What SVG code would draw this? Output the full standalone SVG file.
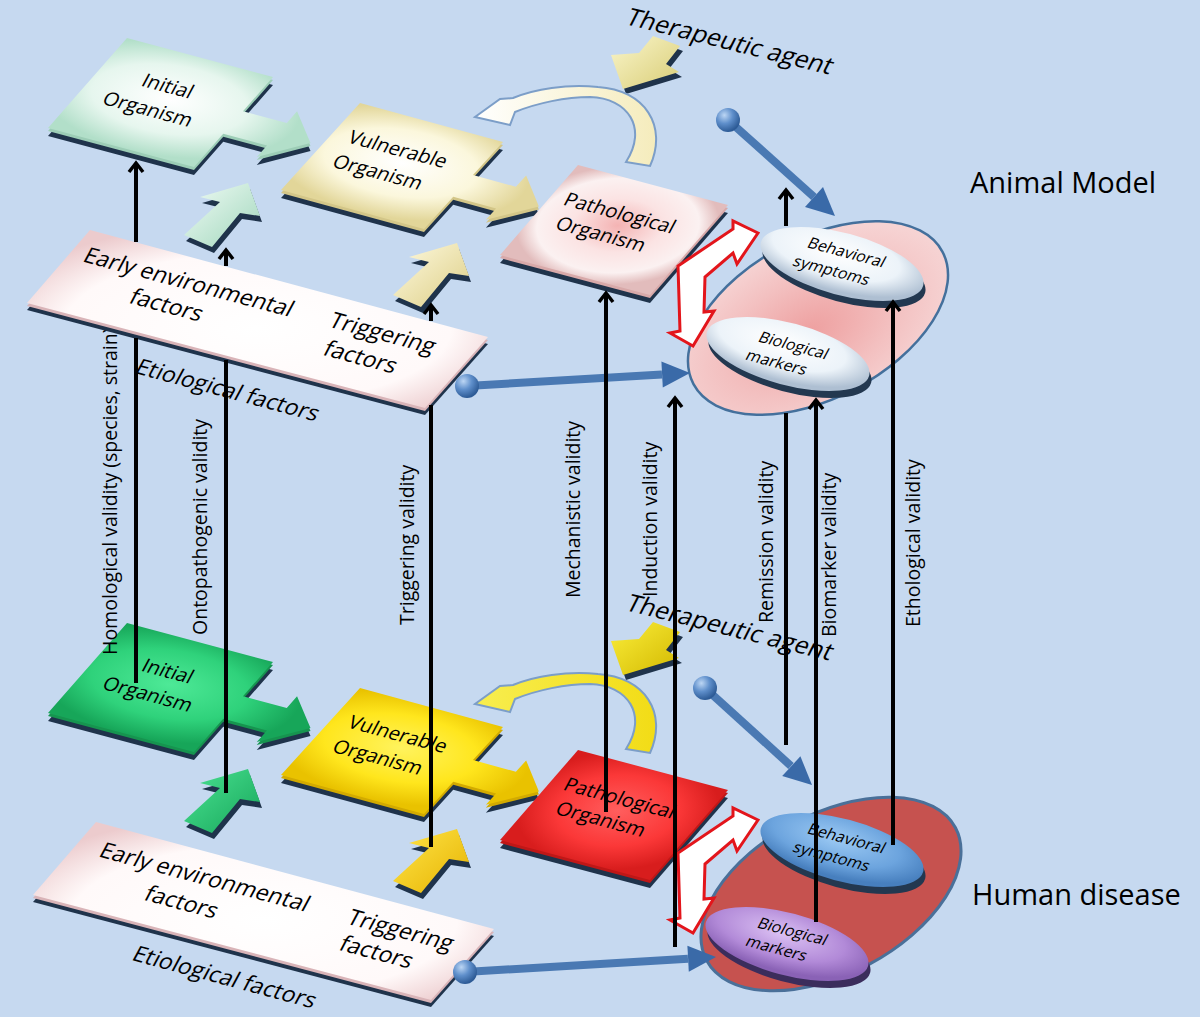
<svg xmlns="http://www.w3.org/2000/svg" width="1200" height="1017" viewBox="0 0 1200 1017">
<defs>
<style>
text{font-family:"Open Sans","Liberation Sans",Arial,sans-serif;fill:#000}
.nl{font-size:20px;text-anchor:middle}
.sl{font-size:23px;text-anchor:middle}
.ol{font-size:16px;text-anchor:middle}
.ta{font-size:25px;text-anchor:middle}
.vl{font-size:19.5px}
.big{font-size:29px}
.shadow{fill:#1f334b}
.vline{stroke:#000;stroke-width:4;fill:none}
.pinl{stroke:#4a79b3;stroke-width:8}
.pinh{fill:#3a6aa8}
.zz{fill:#fff;stroke:#e3151b;stroke-width:3;stroke-linejoin:miter}
.curve{stroke:#7c9ec8;stroke-width:2}
.rim{fill:#233850}
</style>
<path id="sqA" d="M0,0H1V.38H1.3V.25L1.53,.505L1.3,.76V.63H1V1H0Z"/>
<path id="sq" d="M0,0H1V1H0Z"/>
<path id="slab" d="M90,230L488,337L425,408L27,303Z"/>
<path id="sa" d="M48,0L60,33L40,30L12,64L-16,52L20,19L0,14Z"/>
<path id="tha" d="M42,-1L69,9L55,27L68,35L12,52L0,18L28,16Z"/>
<path id="ca" d="M650,166C668,126 645,90 598,87C566,84 535,89 513,98L500,99L475,117L510,125L515,112C537,103 566,97 590,97C628,98 648,128 626,162Z"/>
<path id="zz" d="M758,233L737,264L733,253L705,277L704,312L714,311L693,346L670,333L680,331L678,266L733,229L733,221Z"/>
<marker id="ah" viewBox="-12 -10 16 20" refX="0" refY="0" markerWidth="16" markerHeight="20" markerUnits="userSpaceOnUse" orient="auto">
<path d="M-9,-7L0,0L-9,7" fill="none" stroke="#000" stroke-width="3.5"/>
</marker>
<radialGradient id="gInitA" cx=".35" cy=".45" r=".55"><stop offset="0" stop-color="#ffffff"/><stop offset=".6" stop-color="#e6f6ee"/><stop offset="1" stop-color="#b2dfc9"/></radialGradient>
<radialGradient id="gVulnA" cx=".35" cy=".45" r=".55"><stop offset="0" stop-color="#ffffff"/><stop offset=".6" stop-color="#fbf7dc"/><stop offset="1" stop-color="#e2d699"/></radialGradient>
<radialGradient id="gPathA" cx=".5" cy=".45" r=".6"><stop offset="0" stop-color="#f4b3b3"/><stop offset=".45" stop-color="#fbe3e3"/><stop offset=".8" stop-color="#fbf1f1"/><stop offset="1" stop-color="#e2bcbc"/></radialGradient>
<radialGradient id="gInitH" cx=".35" cy=".45" r=".55"><stop offset="0" stop-color="#4ee997"/><stop offset=".6" stop-color="#2fd27b"/><stop offset="1" stop-color="#17a659"/></radialGradient>
<radialGradient id="gVulnH" cx=".35" cy=".45" r=".55"><stop offset="0" stop-color="#fff35e"/><stop offset=".6" stop-color="#ffe61d"/><stop offset="1" stop-color="#e9c200"/></radialGradient>
<radialGradient id="gPathH" cx=".5" cy=".45" r=".6"><stop offset="0" stop-color="#ff5e5e"/><stop offset=".6" stop-color="#fb3838"/><stop offset="1" stop-color="#d81d1d"/></radialGradient>
<radialGradient id="gSlab" cx=".5" cy=".55" r=".6"><stop offset="0" stop-color="#ffffff"/><stop offset=".7" stop-color="#fff9f9"/><stop offset="1" stop-color="#eccbcd"/></radialGradient>
<linearGradient id="gSGA" x1="0" y1="0" x2="1" y2="1"><stop offset="0" stop-color="#f2fcf6"/><stop offset="1" stop-color="#9fd6bb"/></linearGradient>
<linearGradient id="gSYA" x1="0" y1="0" x2="1" y2="1"><stop offset="0" stop-color="#fffbe2"/><stop offset="1" stop-color="#dccd84"/></linearGradient>
<linearGradient id="gSGH" x1="0" y1="0" x2="1" y2="1"><stop offset="0" stop-color="#4be393"/><stop offset="1" stop-color="#17a65a"/></linearGradient>
<linearGradient id="gSYH" x1="0" y1="0" x2="1" y2="1"><stop offset="0" stop-color="#ffe64a"/><stop offset="1" stop-color="#e6b200"/></linearGradient>
<linearGradient id="gThA" x1="0" y1="0" x2="1" y2="1"><stop offset="0" stop-color="#faf6cc"/><stop offset="1" stop-color="#d9cd76"/></linearGradient>
<linearGradient id="gThH" x1="0" y1="0" x2="1" y2="1"><stop offset="0" stop-color="#fbee3a"/><stop offset="1" stop-color="#d2b800"/></linearGradient>
<linearGradient id="gCA" x1="0" y1="0" x2="1" y2="0"><stop offset="0" stop-color="#ffffff"/><stop offset="1" stop-color="#f5ecbc"/></linearGradient>
<linearGradient id="gCH" x1="0" y1="0" x2="1" y2="0"><stop offset="0" stop-color="#f8ee50"/><stop offset="1" stop-color="#f2dc16"/></linearGradient>
<radialGradient id="gPink" cx=".45" cy=".55" r=".55"><stop offset="0" stop-color="#eea0a0"/><stop offset=".6" stop-color="#f3c0c0"/><stop offset="1" stop-color="#f6d3d3"/></radialGradient>
<radialGradient id="gOvA" cx=".45" cy=".35" r=".6"><stop offset="0" stop-color="#ffffff"/><stop offset=".65" stop-color="#ecf3f9"/><stop offset="1" stop-color="#aebfd2"/></radialGradient>
<radialGradient id="gBehH" cx=".45" cy=".35" r=".6"><stop offset="0" stop-color="#9ccaf4"/><stop offset=".65" stop-color="#6ca4de"/><stop offset="1" stop-color="#477fbe"/></radialGradient>
<radialGradient id="gBioH" cx=".45" cy=".35" r=".6"><stop offset="0" stop-color="#dcc2f4"/><stop offset=".65" stop-color="#b28ad8"/><stop offset="1" stop-color="#8a62b6"/></radialGradient>
<radialGradient id="gBall" cx=".35" cy=".3" r=".7"><stop offset="0" stop-color="#bcd6f4"/><stop offset=".5" stop-color="#5f8fcb"/><stop offset="1" stop-color="#2d5b96"/></radialGradient>
</defs>

<rect width="1200" height="1017" fill="#c6d9f0"/>

<!-- Human disease layer -->
<g id="human-initial-organism" transform="translate(0,585)">
<use href="#sqA" class="shadow" transform="translate(0,8) matrix(146 39 -79 90 127 38)"/>
<use href="#sqA" fill="#16944f" transform="translate(0,3) matrix(146 39 -79 90 127 38)"/>
<use href="#sqA" fill="url(#gInitH)" transform="matrix(146 39 -79 90 127 38)"/>
<text class="nl" transform="matrix(.966 .258 -.47 .88 168 86)" y="7">Initial</text>
<text class="nl" transform="matrix(.966 .258 -.47 .88 148 109)" y="7">Organism</text>
</g>
<g id="human-vulnerable-organism" transform="translate(0,585)">
<use href="#sqA" class="shadow" transform="translate(0,8) matrix(143 39 -79 87 360 103)"/>
<use href="#sqA" fill="#d2aa00" transform="translate(0,3) matrix(143 39 -79 87 360 103)"/>
<use href="#sqA" fill="url(#gVulnH)" transform="matrix(143 39 -79 87 360 103)"/>
<text class="nl" transform="matrix(.966 .258 -.47 .88 398 149)" y="7">Vulnerable</text>
<text class="nl" transform="matrix(.966 .258 -.47 .88 378 172)" y="7">Organism</text>
</g>
<g id="human-pathological-organism" transform="translate(0,585)">
<use href="#sq" class="shadow" transform="translate(0,8) matrix(150 40 -78 90 578 165)"/>
<use href="#sq" fill="#bf1717" transform="translate(0,3) matrix(150 40 -78 90 578 165)"/>
<use href="#sq" fill="url(#gPathH)" transform="matrix(150 40 -78 90 578 165)"/>
<text class="nl" transform="matrix(.966 .258 -.47 .88 620 213)" y="7">Pathological</text>
<text class="nl" transform="matrix(.966 .258 -.47 .88 601 234)" y="7">Organism</text>
</g>
<g id="human-etiological-factors">
<use href="#slab" class="shadow" transform="translate(6,599)"/>
<use href="#slab" fill="#d9b4b8" transform="translate(6,595)"/>
<use href="#slab" fill="url(#gSlab)" transform="translate(6,592)"/>
<text class="sl" transform="matrix(.966 .258 -.47 .88 205 877)" y="8">Early environmental</text>
<text class="sl" transform="matrix(.966 .258 -.47 .88 182 902)" y="8">factors</text>
<text class="sl" transform="matrix(.966 .258 -.47 .88 401 930)" y="8">Triggering</text>
<text class="sl" transform="matrix(.966 .258 -.47 .88 377 952)" y="8">factors</text>
<text class="sl" transform="matrix(.966 .258 -.47 .88 225 977)" y="8">Etiological factors</text>
</g>
<g id="human-therapeutic-agent">
<text class="ta" transform="matrix(.97 .24 -.45 .89 730 628)" y="8">Therapeutic agent</text>
</g>
<g id="human-outcomes">
<ellipse cx="831" cy="894" rx="141" ry="80" transform="rotate(-28 831 894)" fill="#c6524f" stroke="#4a7099" stroke-width="3"/>
<ellipse class="rim" cx="844" cy="857" rx="84" ry="31" transform="rotate(15 844 857)" fill="#24466f"/>
<ellipse cx="842" cy="850" rx="84" ry="31" transform="rotate(15 842 850)" fill="url(#gBehH)"/>
<text class="ol" transform="matrix(.966 .258 -.47 .88 847 838)" y="6">Behavioral</text>
<text class="ol" transform="matrix(.966 .258 -.47 .88 832 856)" y="6">symptoms</text>
<ellipse cx="789" cy="951" rx="84" ry="31" transform="rotate(15 789 951)" fill="#3b2d5c"/>
<ellipse cx="787" cy="944" rx="84" ry="31" transform="rotate(15 787 944)" fill="url(#gBioH)"/>
<text class="ol" transform="matrix(.966 .258 -.47 .88 793 931)" y="6">Biological</text>
<text class="ol" transform="matrix(.966 .258 -.47 .88 777 948)" y="6">markers</text>
</g>

<!-- validity labels -->
<g id="validity-labels" class="vl">
<text class="vl" transform="translate(117,655) rotate(-90)">Homological validity (species, strain)</text>
<text class="vl" transform="translate(207,635) rotate(-90)">Ontopathogenic validity</text>
<text class="vl" transform="translate(414,625) rotate(-90)">Triggering validity</text>
<text class="vl" transform="translate(580,598) rotate(-90)">Mechanistic validity</text>
<text class="vl" transform="translate(657,597) rotate(-90)">Induction validity</text>
<text class="vl" transform="translate(773,623) rotate(-90)">Remission validity</text>
<text class="vl" transform="translate(836,637) rotate(-90)">Biomarker validity</text>
<text class="vl" transform="translate(920,627) rotate(-90)">Ethological validity</text>
</g>

<!-- Animal model layer -->
<g id="animal-initial-organism">
<use href="#sqA" class="shadow" transform="translate(0,8) matrix(146 39 -79 90 127 38)"/>
<use href="#sqA" fill="#9ccdb6" transform="translate(0,3) matrix(146 39 -79 90 127 38)"/>
<use href="#sqA" fill="url(#gInitA)" transform="matrix(146 39 -79 90 127 38)"/>
<text class="nl" transform="matrix(.966 .258 -.47 .88 168 86)" y="7">Initial</text>
<text class="nl" transform="matrix(.966 .258 -.47 .88 148 109)" y="7">Organism</text>
</g>
<g id="animal-vulnerable-organism">
<use href="#sqA" class="shadow" transform="translate(0,8) matrix(143 39 -79 87 360 103)"/>
<use href="#sqA" fill="#d3c688" transform="translate(0,3) matrix(143 39 -79 87 360 103)"/>
<use href="#sqA" fill="url(#gVulnA)" transform="matrix(143 39 -79 87 360 103)"/>
<text class="nl" transform="matrix(.966 .258 -.47 .88 398 149)" y="7">Vulnerable</text>
<text class="nl" transform="matrix(.966 .258 -.47 .88 378 172)" y="7">Organism</text>
</g>
<g id="animal-pathological-organism">
<use href="#sq" class="shadow" transform="translate(0,8) matrix(150 40 -78 90 578 165)"/>
<use href="#sq" fill="#d8a9a9" transform="translate(0,3) matrix(150 40 -78 90 578 165)"/>
<use href="#sq" fill="url(#gPathA)" transform="matrix(150 40 -78 90 578 165)"/>
<text class="nl" transform="matrix(.966 .258 -.47 .88 620 213)" y="7">Pathological</text>
<text class="nl" transform="matrix(.966 .258 -.47 .88 601 234)" y="7">Organism</text>
</g>
<g id="animal-etiological-factors">
<use href="#slab" class="shadow" transform="translate(0,7)"/>
<use href="#slab" fill="#d9b4b8" transform="translate(0,3)"/>
<use href="#slab" fill="url(#gSlab)"/>
<text class="sl" transform="matrix(.966 .258 -.47 .88 189 282)" y="8">Early environmental</text>
<text class="sl" transform="matrix(.966 .258 -.47 .88 167 305)" y="8">factors</text>
<text class="sl" transform="matrix(.966 .258 -.47 .88 383 333)" y="8">Triggering</text>
<text class="sl" transform="matrix(.966 .258 -.47 .88 361 357)" y="8">factors</text>
<text class="sl" transform="matrix(.966 .258 -.47 .88 228 390)" y="8">Etiological factors</text>
</g>
<g id="animal-therapeutic-agent">
<text class="ta" transform="matrix(.97 .24 -.45 .89 730 42)" y="8">Therapeutic agent</text>
</g>
<g id="animal-outcomes">
<ellipse cx="818" cy="318" rx="141" ry="80" transform="rotate(-28 818 318)" fill="url(#gPink)" stroke="#44709c" stroke-width="2.5"/>
<ellipse class="rim" cx="844" cy="271" rx="84" ry="31" transform="rotate(15 844 271)"/>
<ellipse cx="842" cy="264" rx="84" ry="31" transform="rotate(15 842 264)" fill="url(#gOvA)"/>
<text class="ol" transform="matrix(.966 .258 -.47 .88 847 252)" y="6">Behavioral</text>
<text class="ol" transform="matrix(.966 .258 -.47 .88 832 270)" y="6">symptoms</text>
<ellipse class="rim" cx="790" cy="361" rx="84" ry="31" transform="rotate(15 790 361)"/>
<ellipse cx="788" cy="354" rx="84" ry="31" transform="rotate(15 788 354)" fill="url(#gOvA)"/>
<text class="ol" transform="matrix(.966 .258 -.47 .88 794 345)" y="6">Biological</text>
<text class="ol" transform="matrix(.966 .258 -.47 .88 777 362)" y="6">markers</text>
</g>

<g id="model-labels">
<text class="big" x="970" y="193">Animal Model</text>
<text class="big" x="972" y="905">Human disease</text>
</g>

<!-- connectors -->
<g id="connectors">
<use href="#sa" class="shadow" transform="translate(202,189)"/>
<use href="#sa" fill="url(#gSGA)" transform="translate(200,183)"/>
<use href="#sa" class="shadow" transform="translate(411,249)"/>
<use href="#sa" fill="url(#gSYA)" transform="translate(409,243)"/>
<use href="#sa" class="shadow" transform="translate(202,775)"/>
<use href="#sa" fill="url(#gSGH)" transform="translate(200,769)"/>
<use href="#sa" class="shadow" transform="translate(411,835)"/>
<use href="#sa" fill="url(#gSYH)" transform="translate(409,829)"/>
<use href="#tha" class="shadow" transform="translate(614,42)"/>
<use href="#tha" fill="url(#gThA)" transform="translate(611,37)"/>
<use href="#tha" class="shadow" transform="translate(614,628)"/>
<use href="#tha" fill="url(#gThH)" transform="translate(611,623)"/>
<use href="#ca" class="curve" fill="url(#gCA)"/>
<use href="#ca" class="curve" fill="url(#gCH)" transform="translate(0,587)"/>
<use href="#zz" class="zz"/>
<use href="#zz" class="zz" transform="translate(0,587)"/>
<line class="pinl" x1="728" y1="120" x2="814" y2="197"/>
<path class="pinh" d="M835,216L805,207L823,187Z"/>
<circle cx="728" cy="120" r="12" fill="url(#gBall)"/>
<line class="pinl" x1="467" y1="386" x2="662" y2="374.6"/>
<path class="pinh" d="M690,373L662.8,387.6L661.4,361.6Z"/>
<circle cx="467" cy="386" r="12" fill="url(#gBall)"/>
<line class="pinl" x1="705" y1="688" x2="791" y2="766"/>
<path class="pinh" d="M812,785L782.2,776.1L800.4,756.3Z"/>
<circle cx="705" cy="688" r="12" fill="url(#gBall)"/>
<line class="pinl" x1="465" y1="972" x2="688" y2="958.7"/>
<path class="pinh" d="M716,957L688.8,971.7L687.4,945.7Z"/>
<circle cx="465" cy="972" r="12" fill="url(#gBall)"/>
<path class="vline" d="M136,242V163" marker-end="url(#ah)"/>
<path class="vline" d="M136,338V683"/>
<path class="vline" d="M226,266V250" marker-end="url(#ah)"/>
<path class="vline" d="M226,360V793"/>
<path class="vline" d="M431,321V305" marker-end="url(#ah)"/>
<path class="vline" d="M431,405V847"/>
<path class="vline" d="M606,812V293" marker-end="url(#ah)"/>
<path class="vline" d="M675,947V398" marker-end="url(#ah)"/>
<path class="vline" d="M786,226V190" marker-end="url(#ah)"/>
<path class="vline" d="M786,413V745"/>
<path class="vline" d="M816,922V400" marker-end="url(#ah)"/>
<path class="vline" d="M893,845V302" marker-end="url(#ah)"/>
</g>
</svg>
